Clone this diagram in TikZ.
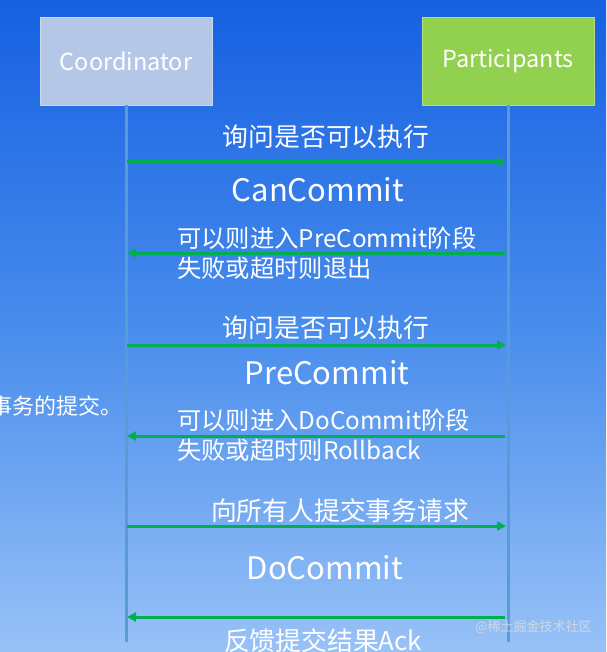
\documentclass[tikz,border=0pt]{standalone}
\usepackage{fontspec}
\setmainfont{Noto Sans CJK SC}
\usetikzlibrary{arrows.meta}
\definecolor{bgtop}{RGB}{22,96,226}
\definecolor{bgmid}{RGB}{72,140,236}
\definecolor{bgbot}{RGB}{152,194,247}
\definecolor{coordfill}{RGB}{180,199,231}
\definecolor{partfill}{RGB}{146,208,80}
\definecolor{lifeline}{RGB}{91,155,213}
\definecolor{msggreen}{RGB}{0,176,80}
\tikzset{
  actor/.style={draw=#1!70!white, line width=0.8pt, fill=#1, minimum width=172pt, minimum height=88pt, inner sep=0pt, text=white, font=\fontsize{23.5}{28}\selectfont},
  life/.style={draw=lifeline, line width=3pt},
  msg/.style={draw=msggreen, line width=3pt, -{Triangle[length=9pt,width=9pt]}},
  lbl/.style={text=white, inner sep=0pt, font=\fontsize{25.8}{30}\selectfont},
  lbltwo/.style={text=white, inner sep=0pt, anchor=west, font=\fontsize{24.3}{29}\selectfont},
  phase/.style={text=white, inner sep=0pt, font=\fontsize{31}{36}\selectfont},
  wm/.style={text=white!75!gray, opacity=0.8, inner sep=0pt, font=\fontsize{13}{15}\selectfont}
}
\begin{document}
\begin{tikzpicture}[x=1pt,y=-1pt]
\useasboundingbox (0,0) rectangle (606,652);
\shade[top color=bgtop, bottom color=bgbot, middle color=bgmid] (0,0) rectangle (606,652);
% actors
\node[actor=coordfill] (coord) at (126,61) {Coordinator};
\node[actor=partfill] (part) at (508,61) {Participants};
% lifelines
\coordinate (cl) at (126,642);
\coordinate (pl) at (508,642);
\draw[life] (coord.south) -- (cl);
\draw[life] (part.south) -- (pl);
% message anchor points
\coordinate (c1) at (127,162); \coordinate (p1) at (506,162);
\coordinate (c2) at (127,253); \coordinate (p2) at (505,253);
\coordinate (c3) at (127,345); \coordinate (p3) at (506,345);
\coordinate (c4) at (127,436); \coordinate (p4) at (505,436);
\coordinate (c5) at (127,526); \coordinate (p5) at (506,526);
\coordinate (c6) at (127,617); \coordinate (p6) at (505,617);
\draw[msg] (c1) -- (p1);
\draw[msg] (p2) -- (c2);
\draw[msg] (c3) -- (p3);
\draw[msg] (p4) -- (c4);
\draw[msg] (c5) -- (p5);
\draw[msg] (p6) -- (c6);
% labels
\node[lbl] (l1) at (326,137) {询问是否可以执行};
\node[phase] (ph1) at (318,190) {CanCommit};
\node[lbltwo] (l2a) at (177,238) {可以则进入PreCommit阶段};
\node[lbltwo] (l2b) at (177,268) {失败或超时则退出};
\node[lbl] (l3) at (326,328) {询问是否可以执行};
\node[phase] (ph2) at (327,373) {PreCommit};
\node[lbltwo] (l4a) at (177,420) {可以则进入DoCommit阶段};
\node[lbltwo] (l4b) at (177,450) {失败或超时则Rollback};
\node[lbl] (l5) at (340,511) {向所有人提交事务请求};
\node[phase] (ph3) at (325,568) {DoCommit};
\node[lbl] (l6) at (323,641) {反馈提交结果Ack};
\node[lbl, anchor=east, font=\fontsize{22}{26}\selectfont] (side) at (123,406) {事务的提交。};
\node[wm, anchor=west] (wmk) at (475,627) {@稀土掘金技术社区};
\end{tikzpicture}
\end{document}
